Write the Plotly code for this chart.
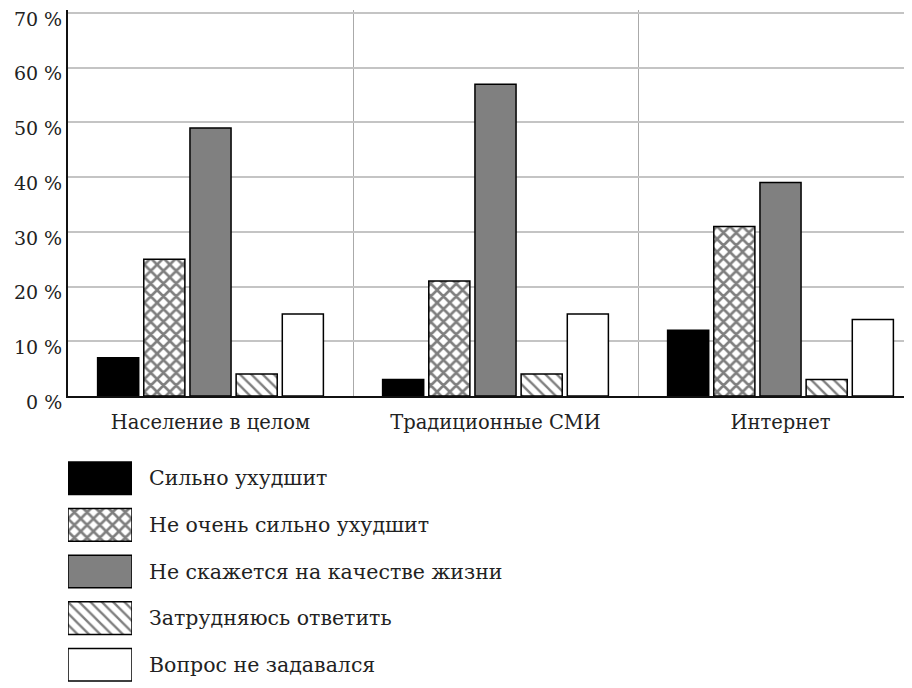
import plotly.graph_objects as go

categories = ["Население в целом", "Традиционные СМИ", "Интернет"]
series_names = [
    "Сильно ухудшит",
    "Не очень сильно ухудшит",
    "Не скажется на качестве жизни",
    "Затрудняюсь ответить",
    "Вопрос не задавался",
]
values_strongly = [7, 3, 12]
values_not_very = [25, 21, 31]
values_no_effect = [49, 57, 39]
values_hard = [4, 4, 3]
values_not_asked = [15, 15, 14]
series_values = [values_strongly, values_not_very, values_no_effect, values_hard, values_not_asked]
y_tick_values = [0, 10, 20, 30, 40, 50, 60, 70]
y_tick_labels = ["0 %", "10 %", "20 %", "30 %", "40 %", "50 %", "60 %", "70 %"]

styles = [
    dict(color="#000000", pattern=dict(shape="")),
    dict(color="#ffffff", pattern=dict(shape="x", fgcolor="#000000", bgcolor="#ffffff", size=9, solidity=0.5)),
    dict(color="#808080", pattern=dict(shape="")),
    dict(color="#ffffff", pattern=dict(shape="\\", fgcolor="#000000", bgcolor="#ffffff", size=8, solidity=0.3)),
    dict(color="#ffffff", pattern=dict(shape="")),
]

FONT = "DejaVu Serif"
# page body has an 8px default margin; size the figure to fill the rest of the window
W, H = 904, 680
mt, mb, ml, mr = 2, 0, 60, 0
ph = H - mt - mb
pw = W - ml - mr

fig = go.Figure()
for name, vals, st in zip(series_names, series_values, styles):
    fig.add_trace(go.Bar(
        x=categories, y=vals, name=name, showlegend=False,
        marker=dict(color=st["color"], pattern=st["pattern"], line=dict(color="#000000", width=1.5)),
        xaxis="x", yaxis="y",
    ))

# custom legend drawn as a small bar subplot
for name, st in zip(series_names, styles):
    fig.add_trace(go.Bar(
        x=[1], y=[name], orientation="h", showlegend=False,
        marker=dict(color=st["color"], pattern=st["pattern"], line=dict(color="#000000", width=1.5)),
        width=0.7, offset=-0.35, base=0,
        xaxis="x2", yaxis="y2", hoverinfo="skip",
    ))

main_bottom = (H - mb - 388) / ph
leg_top = (H - mb - 447) / ph

fig.update_layout(
    width=W, height=H,
    margin=dict(l=ml, r=mr, t=mt, b=mb, autoexpand=False),
    paper_bgcolor="white", plot_bgcolor="white",
    barmode="group", bargap=0.19, bargroupgap=0.11,
    font=dict(family=FONT, color="#222222"),
    xaxis=dict(
        type="category", domain=[0, 1], anchor="y",
        range=[-0.5, -0.5 + pw / 285.0],
        showgrid=True, gridcolor="#aaaaaa", gridwidth=1, tickson="boundaries",
        ticks="", showline=True, linecolor="#111111", linewidth=2,
        tickfont=dict(family=FONT, size=19.5, color="#222222"),
        ticklabelstandoff=8, automargin=False,
    ),
    yaxis=dict(
        domain=[main_bottom, 1], anchor="x",
        range=[0, 70.55], tickvals=y_tick_values, ticktext=y_tick_labels,
        showgrid=True, gridcolor="#c4c4c4", gridwidth=1.5,
        zeroline=False, showline=True, linecolor="#111111", linewidth=2,
        ticks="", tickfont=dict(family=FONT, size=19, color="#222222"),
        ticklabelstandoff=0, ticklabelshift=6, ticklabeloverflow="allow",
        automargin=False,
    ),
    xaxis2=dict(
        domain=[0, 64 / pw], anchor="y2", range=[0, 1],
        showgrid=False, showticklabels=False, zeroline=False, showline=False,
        automargin=False,
    ),
    yaxis2=dict(
        domain=[0, leg_top], anchor="x2", type="category",
        categoryorder="array", categoryarray=series_names,
        autorange="reversed", side="right",
        showgrid=False, zeroline=False, showline=False, ticks="",
        tickfont=dict(family=FONT, size=20.5, color="#222222"),
        ticklabelstandoff=16, automargin=False,
    ),
)

fig.write_html("out.html")
